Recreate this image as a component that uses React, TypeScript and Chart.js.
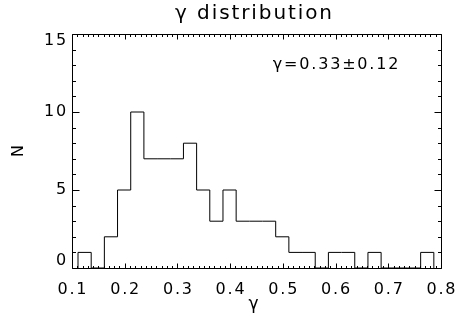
import React, { useEffect, useRef } from "react";
import { Chart, registerables } from "chart.js";

Chart.register(...registerables);

// Histogram data (bins of width 0.025 starting at ~0.111)
const binStart = 0.1114;
const binWidth = 0.025;
const counts = [1, 0, 2, 5, 10, 7, 7, 7, 8, 5, 3, 5, 3, 3, 3, 2, 1, 1, 0, 1, 1, 0, 1, 0, 0, 0, 1];

const xMin = 0.1;
const xMax = 0.8;
const xMajorTicks = [0.1, 0.2, 0.3, 0.4, 0.5, 0.6, 0.7, 0.8];
const xTickLabels = ["0.1", "0.2", "0.3", "0.4", "0.5", "0.6", "0.7", "0.8"];
const xMinorStep = 0.01;
const yMin = 0;
const yMax = 15;
const yMajorTicks = [0, 5, 10, 15];
const yTickLabels = ["0", "5", "10", "15"];
const yMinorStep = 1;

const titleText = "γ distribution";
const xTitle = "γ";
const yTitle = "N";
const annotationText = "γ=0.33±0.12";
const annotationX = 0.481;
const annotationY = 13.05;

const FONT = "'DejaVu Sans', sans-serif";

function buildPoints() {
  const pts: { x: number; y: number }[] = [];
  pts.push({ x: binStart, y: 0 });
  counts.forEach((c, i) => {
    pts.push({ x: binStart + i * binWidth, y: c });
  });
  const last = binStart + counts.length * binWidth;
  pts.push({ x: last, y: counts[counts.length - 1] });
  pts.push({ x: last, y: 0 });
  return pts;
}

const boxPlugin = {
  id: "idlBox",
  afterDatasetsDraw(chart: any) {
    const { ctx, chartArea } = chart;
    const xs = chart.scales.x;
    const ys = chart.scales.y;
    const { left, right, top, bottom } = chartArea;
    ctx.save();
    ctx.strokeStyle = "#000";
    ctx.lineWidth = 1;
    ctx.beginPath();
    const L = Math.round(left) + 0.5;
    const R = Math.round(right) + 0.5;
    const T = Math.round(top) + 0.5;
    const B = Math.round(bottom) + 0.5;
    ctx.rect(L, T, R - L, B - T);
    ctx.stroke();
    // x ticks
    const xMajLen = 5;
    const xMinLen = 2.5;
    const nx = Math.round((xMax - xMin) / xMinorStep);
    ctx.beginPath();
    for (let i = 0; i <= nx; i++) {
      const v = xMin + i * xMinorStep;
      const px = Math.round(xs.getPixelForValue(v)) + 0.5;
      const isMajor = xMajorTicks.some((t) => Math.abs(t - v) < 1e-6);
      const len = isMajor ? xMajLen : xMinLen;
      ctx.moveTo(px, B);
      ctx.lineTo(px, B - len);
      ctx.moveTo(px, T);
      ctx.lineTo(px, T + len);
    }
    // y ticks
    const yMajLen = 7;
    const yMinLen = 3.5;
    const ny = Math.round((yMax - yMin) / yMinorStep);
    for (let i = 0; i <= ny; i++) {
      const v = yMin + i * yMinorStep;
      const py = Math.round(ys.getPixelForValue(v)) + 0.5;
      const isMajor = yMajorTicks.some((t) => Math.abs(t - v) < 1e-6);
      const len = isMajor ? yMajLen : yMinLen;
      ctx.moveTo(L, py);
      ctx.lineTo(L + len, py);
      ctx.moveTo(R, py);
      ctx.lineTo(R - len, py);
    }
    ctx.stroke();
    ctx.restore();
  },
  afterDraw(chart: any) {
    const { ctx, chartArea } = chart;
    const xs = chart.scales.x;
    const ys = chart.scales.y;
    const cx = (chartArea.left + chartArea.right) / 2;
    ctx.save();
    ctx.fillStyle = "#000";
    ctx.textBaseline = "middle";
    (ctx as any).letterSpacing = "1.8px";
    // x tick labels
    ctx.textAlign = "center";
    ctx.font = `16px ${FONT}`;
    xMajorTicks.forEach((t, i) => {
      ctx.fillText(xTickLabels[i], xs.getPixelForValue(t) + 0.9, chartArea.bottom + 22);
    });
    // y tick labels, kept inside the plot's vertical extent
    ctx.textAlign = "right";
    const half = 7;
    yMajorTicks.forEach((t, i) => {
      let py = ys.getPixelForValue(t);
      py = Math.max(chartArea.top + half, Math.min(chartArea.bottom - half, py));
      ctx.fillText(yTickLabels[i], chartArea.left - 4, py);
    });
    // title
    ctx.textAlign = "center";
    (ctx as any).letterSpacing = "1.9px";
    ctx.font = `20px ${FONT}`;
    ctx.fillText(titleText, cx - 2, 14);
    // x title
    (ctx as any).letterSpacing = "0px";
    ctx.font = `17px ${FONT}`;
    ctx.fillText(xTitle, cx - 3, 305);
    // y title
    ctx.save();
    ctx.translate(19, (chartArea.top + chartArea.bottom) / 2);
    ctx.rotate(-Math.PI / 2);
    ctx.font = `16px ${FONT}`;
    ctx.fillText(yTitle, 0, 0);
    ctx.restore();
    // annotation
    ctx.textAlign = "left";
    (ctx as any).letterSpacing = "1.8px";
    ctx.font = `16px ${FONT}`;
    ctx.fillText(annotationText, xs.getPixelForValue(annotationX), ys.getPixelForValue(annotationY));
    ctx.restore();
  },
};

export default function App() {
  const ref = useRef<HTMLCanvasElement | null>(null);
  useEffect(() => {
    if (!ref.current) return;
    const chart = new Chart(ref.current, {
      type: "line",
      data: {
        datasets: [
          {
            data: buildPoints(),
            stepped: "before",
            borderColor: "#000",
            borderWidth: 1,
            pointRadius: 0,
            fill: false,
            tension: 0,
          },
        ],
      },
      options: {
        animation: false,
        responsive: false,
        layout: { padding: { top: 34, right: 15, left: 0, bottom: 0 } },
        plugins: { legend: { display: false }, tooltip: { enabled: false }, title: { display: false } },
        scales: {
          x: {
            type: "linear",
            min: xMin,
            max: xMax,
            grid: { display: false, drawTicks: false },
            border: { display: false },
            ticks: { display: false },
            afterFit: (s: any) => {
              s.height = 59;
              s.paddingLeft = 0;
              s.paddingRight = 0;
            },
          },
          y: {
            type: "linear",
            min: yMin,
            max: yMax,
            grid: { display: false, drawTicks: false },
            border: { display: false },
            ticks: { display: false },
            afterFit: (s: any) => {
              s.width = 72;
              s.paddingTop = 0;
              s.paddingBottom = 0;
            },
          },
        },
      },
      plugins: [boxPlugin],
    });
    return () => chart.destroy();
  }, []);
  return (
    <div style={{ position: "absolute", left: 0, top: 0, width: 456, height: 327, background: "#fff" }}>
      <canvas ref={ref} width={456} height={327} style={{ display: "block" }} />
    </div>
  );
}
